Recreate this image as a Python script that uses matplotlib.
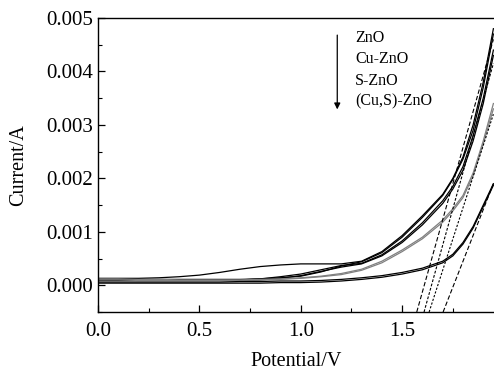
import numpy as np
import matplotlib
matplotlib.use('Agg')
import matplotlib.pyplot as plt
from matplotlib.ticker import MultipleLocator, FormatStrFormatter

# potential grid (V)
V = [0.0, 0.1, 0.2, 0.3, 0.4, 0.5, 0.6, 0.7, 0.8, 0.9, 1.0, 1.1, 1.2,
     1.3, 1.4, 1.5, 1.6, 1.7, 1.75, 1.8, 1.85, 1.9, 1.95]

# currents, units of 1e-4 A (two scan branches per sample)
zno_a = [1.3, 1.3, 1.3, 1.4, 1.6, 1.9, 2.4, 3.0, 3.5, 3.8, 4.0, 4.0, 4.0,
         4.5, 6.3, 9.3, 13.0, 17.0, 20.0, 24.0, 30.0, 38.0, 48.0]
zno_b = [1.1, 1.1, 1.1, 1.1, 1.1, 1.1, 1.1, 1.1, 1.2, 1.4, 1.7, 2.5, 3.6,
         4.4, 6.1, 9.0, 12.7, 16.8, 19.8, 23.6, 29.0, 37.0, 47.0]
cu_a = [1.0, 1.0, 1.0, 1.0, 1.0, 1.0, 1.0, 1.0, 1.2, 1.6, 2.1, 2.9, 3.7,
        4.1, 5.7, 8.3, 11.7, 15.8, 18.5, 22.2, 28.0, 35.0, 44.0]
cu_b = [0.9, 0.9, 0.9, 0.9, 0.9, 0.9, 0.9, 0.9, 1.0, 1.3, 1.8, 2.6, 3.4,
        4.0, 5.5, 8.0, 11.3, 15.3, 18.0, 21.5, 27.0, 34.0, 43.0]
s_a = [1.2, 1.2, 1.1, 1.1, 1.0, 1.0, 1.0, 1.0, 1.1, 1.2, 1.4, 1.7, 2.2,
       3.0, 4.5, 6.6, 9.0, 12.2, 14.3, 16.8, 21.0, 27.0, 34.0]
s_b = [1.0, 1.0, 0.9, 0.9, 0.9, 0.9, 0.9, 0.9, 1.0, 1.1, 1.3, 1.6, 2.0,
       2.8, 4.2, 6.3, 8.7, 11.8, 13.9, 16.4, 20.5, 26.5, 33.0]
cus_a = [0.6, 0.6, 0.6, 0.6, 0.6, 0.6, 0.6, 0.7, 0.7, 0.8, 0.8, 0.9, 1.1,
         1.4, 1.8, 2.4, 3.2, 4.5, 5.8, 8.0, 11.0, 15.0, 19.0]
cus_b = [0.4, 0.4, 0.4, 0.4, 0.4, 0.4, 0.4, 0.4, 0.4, 0.5, 0.5, 0.6, 0.8,
         1.1, 1.5, 2.1, 2.9, 4.2, 5.5, 7.7, 10.7, 14.7, 18.7]

# tangent lines (onset): start potential on the bottom axis, end current at 1.95 V
tan_x0 = [1.572, 1.608, 1.633, 1.702]
tan_y1 = [0.0046, 0.00415, 0.0032, 0.0019]
tan_dash = [(4, 2), (2.5, 1.5), (2, 1.5), (4, 2)]

labels = ['ZnO', 'Cu-ZnO', 'S-ZnO', '(Cu,S)-ZnO']

plt.rcParams['font.family'] = ['Liberation Serif', 'DejaVu Serif']

fig = plt.figure(figsize=(4.94, 3.72), dpi=100)
ax = fig.add_axes([98/494, 1 - 312/372, 1 - 98/494, (312 - 18)/372])

Va = np.array(V)
for ys, col in [(zno_a, 'black'), (zno_b, 'black'), (cu_a, 'black'), (cu_b, 'black'),
                (s_a, '#808080'), (s_b, '#808080'), (cus_a, 'black'), (cus_b, 'black')]:
    ax.plot(Va, np.array(ys) * 1e-4, color=col, lw=0.9)

for x0, y1, d in zip(tan_x0, tan_y1, tan_dash):
    ax.plot([x0, 1.95], [-0.0005, y1], color='black', lw=0.8, dashes=d)

# legend text with arrow
ly = [0.00462, 0.00423, 0.00383, 0.00344]
for t, y in zip(labels, ly):
    ax.text(1.268, y, t, fontsize=11.5, va='center', ha='left')
ax.annotate('', xy=(1.18, 0.00329), xytext=(1.18, 0.00468),
            arrowprops=dict(arrowstyle='-|>', color='black', lw=0.9,
                            mutation_scale=9, shrinkA=0, shrinkB=0))

ax.set_xlim(0, 1.953)
ax.set_ylim(-0.0005, 0.005)
ax.xaxis.set_major_locator(MultipleLocator(0.5))
ax.xaxis.set_minor_locator(MultipleLocator(0.25))
ax.yaxis.set_major_locator(MultipleLocator(0.001))
ax.yaxis.set_minor_locator(MultipleLocator(0.0005))
ax.xaxis.set_major_formatter(FormatStrFormatter('%.1f'))
ax.yaxis.set_major_formatter(FormatStrFormatter('%.3f'))
ax.tick_params(which='both', direction='in', top=False, right=False, labelsize=15)
ax.tick_params(which='major', length=5, width=0.9)
ax.tick_params(which='minor', length=3, width=0.8)
ax.tick_params(axis='x', pad=7)
ax.spines['right'].set_visible(False)
for s in ['left', 'bottom', 'top']:
    ax.spines[s].set_linewidth(1.0)

ax.set_xlabel('Potential/V', fontsize=14.5)
ax.set_ylabel('Current/A', fontsize=14.5)
ax.xaxis.set_label_coords(0.5, -0.135)
ax.yaxis.set_label_coords((28 - 98) / 396, 0.5)

fig.savefig('out.png', dpi=100)
